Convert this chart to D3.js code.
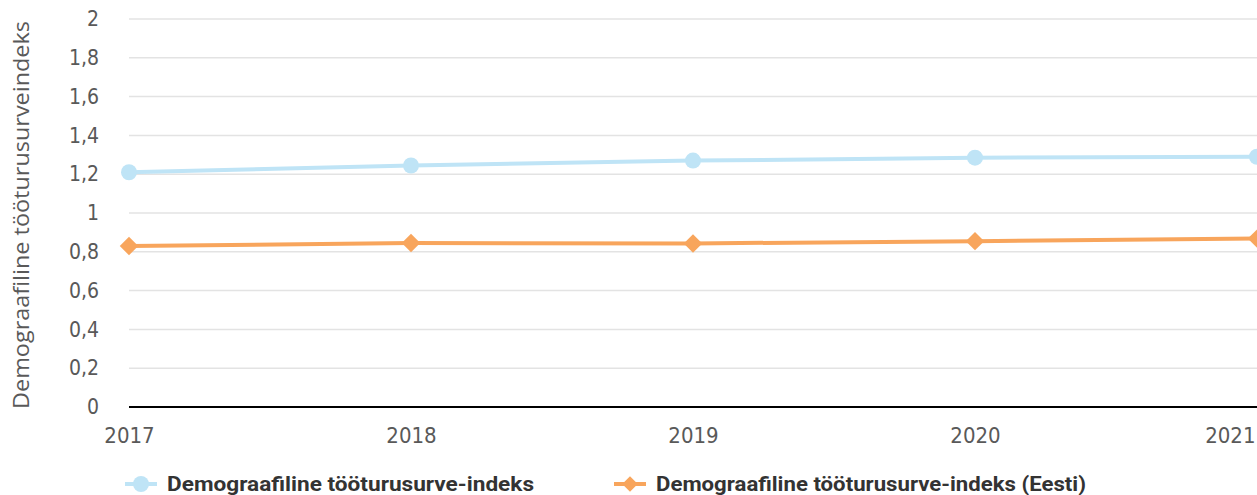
<!DOCTYPE html>
<html>
<head>
<meta charset="utf-8">
<script src="https://cdn.jsdelivr.net/npm/d3@7"></script>
<style>
  body { margin: 0; background: #fff; overflow: hidden; }
  svg { display: block; }
</style>
</head>
<body>
<div id="chart"></div>
<script>
// data
const years = ["2017", "2018", "2019", "2020", "2021"];
const indexLocal = [1.21, 1.245, 1.27, 1.285, 1.29];
const indexEesti = [0.83, 0.845, 0.843, 0.855, 0.868];
const yTicks = [0, 0.2, 0.4, 0.6, 0.8, 1, 1.2, 1.4, 1.6, 1.8, 2];
const seriesNames = ["Demograafiline tööturusurve-indeks", "Demograafiline tööturusurve-indeks (Eesti)"];
const yTitle = "Demograafiline tööturusurveindeks";

const width = 1257, height = 495;
const margin = { top: 19, right: 0, bottom: 88, left: 129 };
const narrow = "'Liberation Sans Narrow', 'DejaVu Sans Condensed', sans-serif";

const svg = d3.select("#chart").append("svg")
    .attr("width", width)
    .attr("height", height);

const x = d3.scalePoint()
    .domain(years)
    .range([margin.left, width - margin.right]);

const y = d3.scaleLinear()
    .domain([0, 2])
    .range([height - margin.bottom, margin.top]);

const fmt = d => String(d).replace(".", ",");

// gridlines
svg.append("g")
    .selectAll("line")
    .data(yTicks.filter(d => d > 0))
    .join("line")
    .attr("x1", margin.left)
    .attr("x2", width)
    .attr("y1", d => y(d))
    .attr("y2", d => y(d))
    .attr("stroke", "#e3e3e3")
    .attr("stroke-width", 1.5);

// y axis labels
const yAxis = d3.axisLeft(y).tickValues(yTicks).tickFormat(fmt).tickSize(0).tickPadding(0);
svg.append("g")
    .attr("transform", `translate(${margin.left - 30},0)`)
    .call(yAxis)
    .call(g => g.select(".domain").remove())
    .selectAll("text")
    .attr("font-family", narrow)
    .attr("font-size", 21)
    .attr("fill", "#595959")
    .attr("text-anchor", "end");

// x axis baseline + labels
const xAxis = d3.axisBottom(x).tickSize(0).tickPadding(20);
svg.append("g")
    .attr("transform", `translate(0,${y(0)})`)
    .call(xAxis)
    .call(g => g.select(".domain")
        .attr("d", `M${margin.left},0H${width}`)
        .attr("stroke", "#000")
        .attr("stroke-width", 2))
    .selectAll("text")
    .attr("font-family", narrow)
    .attr("font-size", 22)
    .attr("fill", "#595959")
    .attr("text-anchor", (d, i) => i === years.length - 1 ? "end" : "middle")
    .attr("x", (d, i) => i === years.length - 1 ? -2 : 0);

// y title
svg.append("text")
    .attr("transform", `translate(29,${(margin.top + y(0)) / 2 + 2}) rotate(-90)`)
    .attr("text-anchor", "middle")
    .attr("font-family", "'Open Sans', sans-serif")
    .attr("font-size", 22)
    .attr("textLength", 388)
    .attr("lengthAdjust", "spacingAndGlyphs")
    .attr("fill", "#595959")
    .text(yTitle);

const colors = ["#bfe4f6", "#f8a55c"];
const line = d3.line()
    .x((d, i) => x(years[i]))
    .y(d => y(d));

const diamond = d3.symbol().type(d3.symbolSquare).size(170);

[indexLocal, indexEesti].forEach((vals, k) => {
    svg.append("path")
        .datum(vals)
        .attr("fill", "none")
        .attr("stroke", colors[k])
        .attr("stroke-width", 4)
        .attr("d", line);

    if (k === 0) {
        svg.append("g").selectAll("circle")
            .data(vals)
            .join("circle")
            .attr("cx", (d, i) => x(years[i]))
            .attr("cy", d => y(d))
            .attr("r", 8)
            .attr("fill", colors[k]);
    } else {
        svg.append("g").selectAll("path")
            .data(vals)
            .join("path")
            .attr("d", diamond)
            .attr("transform", (d, i) => `translate(${x(years[i])},${y(d)}) rotate(45)`)
            .attr("fill", colors[k]);
    }
});

// legend
const legendX = [125, 614];
const legendLen = [367, 430];
const legendY = 484;
seriesNames.forEach((name, k) => {
    const g = svg.append("g").attr("transform", `translate(${legendX[k]},${legendY})`);
    g.append("line")
        .attr("x1", 0).attr("x2", 32)
        .attr("stroke", colors[k])
        .attr("stroke-width", 4);
    if (k === 0) {
        g.append("circle").attr("cx", 16).attr("r", 8).attr("fill", colors[k]);
    } else {
        g.append("path")
            .attr("d", d3.symbol().type(d3.symbolSquare).size(120))
            .attr("transform", "translate(16,0) rotate(45)")
            .attr("fill", colors[k]);
    }
    g.append("text")
        .attr("x", 42)
        .attr("y", 7)
        .attr("font-family", "Roboto, sans-serif")
        .attr("font-weight", "bold")
        .attr("font-size", 21)
        .attr("textLength", legendLen[k])
        .attr("lengthAdjust", "spacingAndGlyphs")
        .attr("fill", "#333")
        .text(name);
});
</script>
</body>
</html>
